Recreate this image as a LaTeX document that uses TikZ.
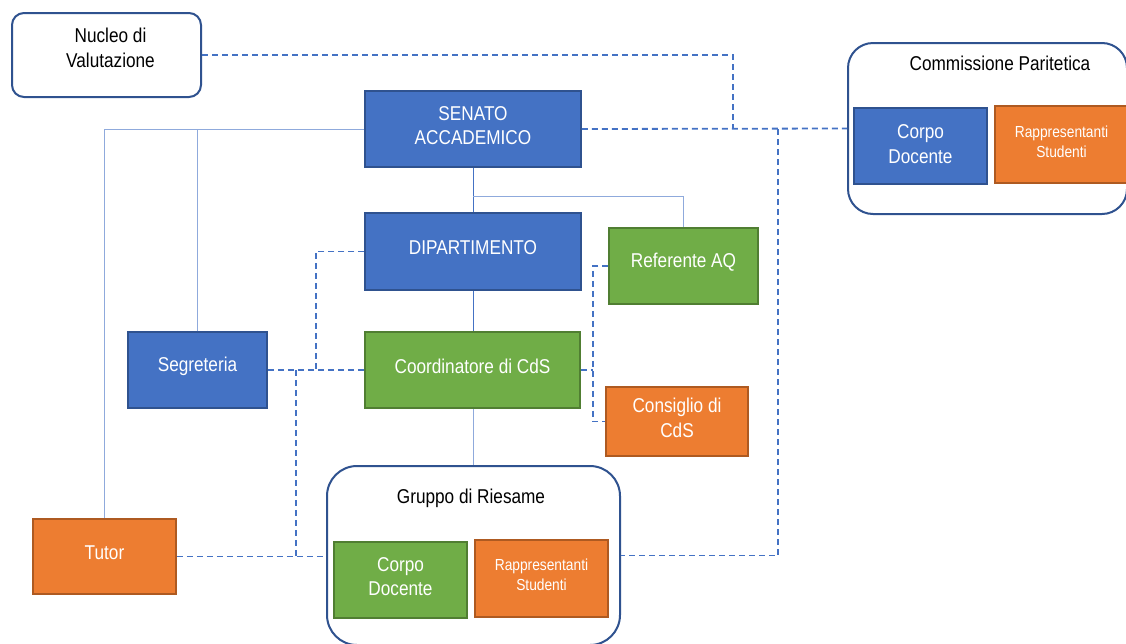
\documentclass[tikz,border=0pt]{standalone}
\usepackage{fontspec}
\setmainfont{Liberation Sans}[FakeStretch=0.86]
\usetikzlibrary{calc}

\definecolor{bluefill}{HTML}{4472C4}
\definecolor{blueline}{HTML}{2F528F}
\definecolor{greenfill}{HTML}{70AD47}
\definecolor{greenline}{HTML}{507E32}
\definecolor{orangefill}{HTML}{ED7D31}
\definecolor{orangeline}{HTML}{AE5A21}
\definecolor{lightlink}{HTML}{8FAADC}

\newcommand{\bigtxt}{\fontsize{20}{24.5}\selectfont}
\newcommand{\smalltxt}{\fontsize{16}{20}\selectfont}

\tikzset{
  unitbox/.style={rectangle, inner sep=0pt, line width=1.5pt},
  bluebox/.style={unitbox, fill=bluefill, draw=blueline},
  greenbox/.style={unitbox, fill=greenfill, draw=greenline},
  orangebox/.style={unitbox, fill=orangefill, draw=orangeline},
  % box captions sit a little above the geometric centre
  boxtext/.style={inner sep=0pt, align=center, text=white, font=\bigtxt, yshift=3.5pt},
  smalltext/.style={boxtext, font=\smalltxt},
  darktext/.style={boxtext, text=black},
  groupbox/.style={rectangle, draw=blueline, line width=2pt, fill=white, inner sep=0pt},
  grouptitle/.style={inner sep=0pt, font=\bigtxt, text=black},
  solidlink/.style={draw=lightlink, line width=1pt},
  spinelink/.style={draw=bluefill, line width=1pt},
  dashlink/.style={draw=bluefill, line width=1.8pt, dash pattern=on 6pt off 4pt},
}

\begin{document}
\begin{tikzpicture}[x=1pt, y=-1pt]
\useasboundingbox (0,0) rectangle (1126,643);

% containers
\node[groupbox, rounded corners=12pt, minimum width=189pt, minimum height=84pt,
  label={[darktext, xshift=4pt, yshift=3.5pt]center:{Nucleo di\\Valutazione}}]
  (nucleo) at (106.5,55) {};
\node[groupbox, rounded corners=30pt, minimum width=293pt, minimum height=179pt]
  (gruppo) at (473.5,555.5) {};
\node[grouptitle] (gruppotitle) at (471,498) {Gruppo di Riesame};
\node[groupbox, rounded corners=25pt, minimum width=279pt, minimum height=171pt]
  (comm) at (987.5,128.5) {};
\node[grouptitle] (commtitle) at (1000,63) {Commissione Paritetica};

% boxes
\node[bluebox, minimum width=216pt, minimum height=76pt,
  label={[boxtext]center:{SENATO\\ACCADEMICO}}] (senato) at (473,129) {};
\node[bluebox, minimum width=216pt, minimum height=77pt,
  label={[boxtext]center:DIPARTIMENTO}] (dept) at (473,251.5) {};
\node[greenbox, minimum width=215pt, minimum height=76pt,
  label={[boxtext]center:Coordinatore di CdS}] (coord) at (472.5,370) {};
\node[greenbox, minimum width=149pt, minimum height=76pt,
  label={[boxtext]center:Referente AQ}] (refaq) at (683.5,266) {};
\node[orangebox, minimum width=142pt, minimum height=69pt,
  label={[boxtext]center:{Consiglio di\\CdS}}] (consiglio) at (677,421.5) {};
\node[bluebox, minimum width=139pt, minimum height=76pt,
  label={[boxtext]center:Segreteria}] (segreteria) at (197.5,370) {};
\node[orangebox, minimum width=143pt, minimum height=75pt,
  label={[boxtext]center:Tutor}] (tutor) at (104.5,556.5) {};

\node[greenbox, minimum width=133pt, minimum height=76pt,
  label={[boxtext]center:{Corpo\\Docente}}] (gcorpo) at (400.5,580) {};
\node[orangebox, minimum width=133pt, minimum height=77pt,
  label={[smalltext]center:{Rappresentanti\\Studenti}}] (grapp) at (541.5,578.5) {};

\node[bluebox, minimum width=133pt, minimum height=76pt,
  label={[boxtext, yshift=-1.5pt]center:{Corpo\\Docente}}] (ccorpo) at (920.5,146) {};
\node[orangebox, minimum width=133pt, minimum height=77pt,
  label={[smalltext, yshift=-1pt]center:{Rappresentanti\\Studenti}}] (crapp) at (1061.5,144.5) {};

% junction points of the dashed network
\coordinate (jnucleo) at (733,129);
\coordinate (jright) at (778,129);
\coordinate (jdept) at (316,370);
\coordinate (jtutor) at (296,370);
\coordinate (jcds) at (593,370);

% solid hierarchy
\draw[solidlink] (senato.west) -| (tutor.north);
\draw[solidlink] (segreteria.north) -- (segreteria.north |- senato.west);
\draw[spinelink] (senato.south) -- (dept.north);
\draw[spinelink] (dept.south) -- (dept.south |- coord.north);
\draw[solidlink] (dept.south |- coord.south) -- (dept.south |- gruppo.north);
\draw[solidlink] ($(senato.south)!0.65!(dept.north)$) -| (refaq.north);

% dashed relations
\draw[dashlink] (nucleo.east) -| (jnucleo);
\draw[dashlink] (senato.east) -- (comm.west);
\draw[dashlink] (jright) |- (gruppo.east);
\draw[dashlink] (segreteria.east) -- (coord.west);
\draw[dashlink] (dept.west) -| (jdept);
\draw[dashlink] (jtutor) -- (jtutor |- tutor.east);
\draw[dashlink] (tutor.east) -- (tutor.east -| gruppo.west);
\draw[dashlink] (coord.east) -- (jcds);
\draw[dashlink] (refaq.west) -| (jcds) |- (consiglio.west);
\end{tikzpicture}
\end{document}
